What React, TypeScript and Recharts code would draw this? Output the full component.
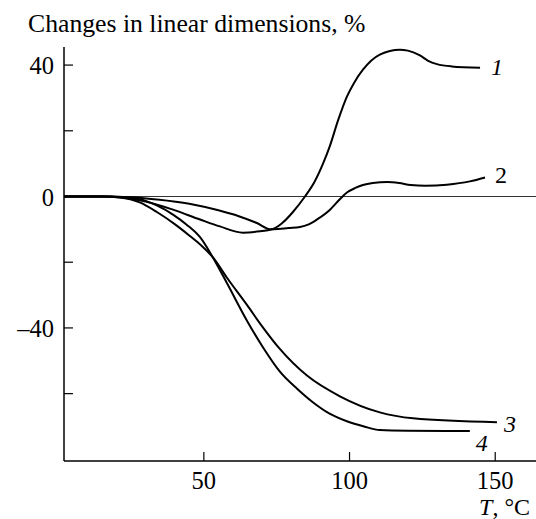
import { LineChart, Line, XAxis, YAxis, ReferenceLine } from 'recharts'

// temperature (°C) and change in linear dimensions (%) for each sample
const t1 = [2, 15, 25, 34, 45, 55, 62, 68, 73, 77, 80.5, 84.7, 88, 90.9, 93.3, 96, 99.1, 101.5, 104.6, 110.4, 117.3, 120, 124, 127, 130, 135, 144.8]
const v1 = [0, 0, -0.2, -0.9, -2.2, -4.2, -6, -8, -10, -8, -4.8, 0, 4.5, 10, 15.5, 23, 30.4, 34.5, 38.6, 43.2, 44.7, 44.4, 43, 41.3, 40.3, 39.6, 39.2]

const t2 = [2, 15, 22, 30, 39.4, 48.7, 55.5, 63.4, 70, 74, 79, 83, 86, 89, 93.3, 96.5, 99.1, 102, 104.6, 108, 113, 117, 121, 126, 133.4, 141.3, 146.5]
const v2 = [0, 0, -0.3, -1.5, -4, -7, -9.1, -11, -10.5, -10, -9.6, -9.3, -8.5, -6.9, -4, -1, 1.2, 2.6, 3.5, 4.1, 4.4, 4.1, 3.5, 3.3, 3.6, 4.6, 5.8]

const t3 = [2, 15, 21, 28, 34, 40, 45.2, 49, 53, 58, 64.8, 70, 76, 85.4, 96.7, 110.4, 121.8, 150.6]
const v3 = [0, 0, -0.3, -1.8, -4.8, -8.4, -12, -14.8, -18.4, -24.8, -33, -39.5, -46.3, -54.5, -60.8, -65.7, -67.5, -68.7]

const t4 = [2, 18, 28, 34, 39.4, 44, 48.7, 53, 58, 64.8, 70, 76.1, 82, 87.4, 93, 99.1, 105, 110.4, 120, 141.3]
const v4 = [0, 0, -0.8, -2.8, -5.5, -8.5, -12.4, -18.4, -26.5, -37.8, -45.5, -53.3, -58.5, -62.6, -66, -68.4, -70, -71.1, -71.3, -71.4]

const xTicks = [50, 100, 150]
const yTicks = [-60, -40, -20, 0, 20, 40]
const yLabelled = [-40, 0, 40]

const zip = (t: number[], v: number[]) => t.map((T, i) => ({ T, v: v[i] }))

const serif = '"Liberation Serif", "Times New Roman", serif'

const XTick = (props: any) => {
  const { x, y, payload } = props
  return (
    <g>
      <line x1={x} x2={x} y1={y} y2={y - 9} stroke="#000" strokeWidth={1.2} />
      <text x={x} y={y + 28} textAnchor="middle" fontSize={24.5} fontFamily={serif} fill="#000">
        {payload.value}
      </text>
    </g>
  )
}

const YTick = (props: any) => {
  const { x, y, payload } = props
  const v = payload.value
  return (
    <g>
      <line x1={x} x2={x + 9} y1={y} y2={y} stroke="#000" strokeWidth={1.2} />
      {yLabelled.includes(v) && (
        <text x={x - 10} y={y + 9} textAnchor="end" fontSize={24.5} fontFamily={serif} fill="#000">
          {v < 0 ? '\u2013' + Math.abs(v) : v}
        </text>
      )}
    </g>
  )
}

const endLabel = (text: string, last: number, dx: number, dy: number, italic: boolean) => (props: any) => {
  if (props.index !== last) return null
  return (
    <text
      x={props.x + dx}
      y={props.y + dy}
      fontSize={24}
      fontFamily={serif}
      fontStyle={italic ? 'italic' : 'normal'}
      fill="#000"
    >
      {text}
    </text>
  )
}

const curves = [
  { data: zip(t1, v1), label: endLabel('1', t1.length - 1, 11, 7, true) },
  { data: zip(t2, v2), label: endLabel('2', t2.length - 1, 10, 6, false) },
  { data: zip(t3, v3), label: endLabel('3', t3.length - 1, 7, 10, true) },
  { data: zip(t4, v4), label: endLabel('4', t4.length - 1, 6, 20, true) },
]

const App = () => {
  return (
    <div style={{ position: 'absolute', left: 0, top: 0, width: 536, height: 519, background: '#fff' }}>
      <LineChart width={536} height={519} margin={{ top: 47, right: 0, bottom: 0, left: 0 }}>
        <XAxis
          type="number"
          dataKey="T"
          domain={[2, 164]}
          ticks={xTicks}
          allowDataOverflow
          height={58}
          stroke="#000"
          strokeWidth={1.5}
          tickLine={false}
          tickSize={0}
          tickMargin={0}
          tick={<XTick />}
        />
        <YAxis
          type="number"
          domain={[-80.5, 45.5]}
          ticks={yTicks}
          allowDataOverflow
          width={64}
          stroke="#000"
          strokeWidth={1.5}
          tickLine={false}
          tickSize={0}
          tickMargin={0}
          tick={<YTick />}
        />
        <ReferenceLine y={0} stroke="#333" strokeWidth={1.2} />
        {curves.map((c, i) => (
          <Line
            key={i}
            data={c.data}
            dataKey="v"
            type="monotone"
            stroke="#000"
            strokeWidth={2}
            dot={false}
            isAnimationActive={false}
            label={c.label}
          />
        ))}
      </LineChart>
      <div
        style={{
          position: 'absolute', left: 28, top: 11, fontFamily: serif, fontSize: 25.7,
          lineHeight: '25px', whiteSpace: 'nowrap', color: '#000',
        }}
      >
        Changes in linear dimensions, %
      </div>
      <div
        style={{
          position: 'absolute', right: 6, top: 495, fontFamily: serif, fontSize: 24,
          lineHeight: '24px', whiteSpace: 'nowrap', color: '#000',
        }}
      >
        <i>T</i>, °C
      </div>
    </div>
  )
}

export default App
